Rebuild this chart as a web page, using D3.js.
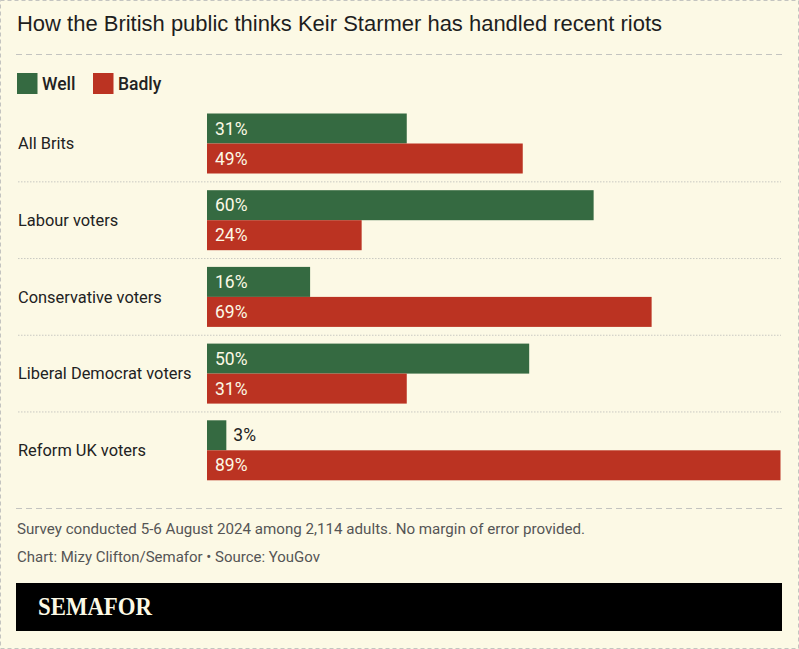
<!DOCTYPE html>
<html>
<head>
<meta charset="utf-8">
<script src="https://cdn.jsdelivr.net/npm/d3@7"></script>
<style>
  body { margin: 0; background: #fcf9e5; }
  svg { display: block; }
</style>
</head>
<body>
<svg id="canvas" width="799" height="649"></svg>
<script>
// data
var groups = ['All Brits', 'Labour voters', 'Conservative voters', 'Liberal Democrat voters', 'Reform UK voters'];
var series = ['Well', 'Badly'];
var well = [31, 60, 16, 50, 3];
var badly = [49, 24, 69, 31, 89];
var colors = ['#356a41', '#bb3322'];

var title = 'How the British public thinks Keir Starmer has handled recent riots';
var note = 'Survey conducted 5-6 August 2024 among 2,114 adults. No margin of error provided.';
var credit = 'Chart: Mizy Clifton/Semafor \u2022 Source: YouGov';

var svg = d3.select('#canvas');
var W = 799, H = 649;
var sans = 'Roboto, "Noto Sans", sans-serif';

// background + outer dashed frame
svg.append('rect').attr('x', 0.5).attr('y', 0.5).attr('width', W - 1).attr('height', H - 1)
  .style('fill', '#fcf9e5').style('stroke', '#c4c4c0').style('stroke-dasharray', '4,3');

// title
svg.append('text').attr('x', 17).attr('y', 31)
  .attr('textLength', 645).attr('lengthAdjust', 'spacingAndGlyphs')
  .style('font-family', '"Liberation Sans", Arial, sans-serif').style('font-size', '22px').style('fill', '#1e1e1e')
  .text(title);
svg.append('line').attr('x1', 16).attr('x2', 782).attr('y1', 54.5).attr('y2', 54.5)
  .style('stroke', '#c4c4c0').style('stroke-dasharray', '6,4');

// legend
var legend = svg.append('g').selectAll('g').data(series).join('g')
  .attr('transform', function(d, i){ return 'translate(' + [17, 93][i] + ',73)'; });
legend.append('rect').attr('width', 20.5).attr('height', 21).style('fill', function(d, i){ return colors[i]; });
legend.append('text').attr('x', 25).attr('y', 10.5).attr('dy', '0.35em')
  .style('font-family', sans).style('font-size', '17.5px').style('font-weight', 500).style('fill', '#222')
  .text(function(d){ return d; });

// scales
var x = d3.scaleLinear().domain([0, 89]).range([207, 780.5]);
var y = d3.scaleBand().domain(groups).range([113.5, 480.3]).paddingInner(16.7 / 76.7);
var ySub = d3.scaleBand().domain(series).range([0, y.bandwidth()]);

var rows = groups.map(function(g, i){ return { name: g, vals: [well[i], badly[i]] }; });

// separators between groups
svg.append('g').selectAll('line').data(groups.slice(1)).join('line')
  .attr('x1', 18).attr('x2', 781)
  .attr('y1', function(d){ return y(d) - y.step() * y.paddingInner() / 2; })
  .attr('y2', function(d){ return y(d) - y.step() * y.paddingInner() / 2; })
  .style('stroke', '#c9c9c2').style('stroke-dasharray', '1.5,1.5');

var row = svg.append('g').selectAll('g').data(rows).join('g')
  .attr('transform', function(d){ return 'translate(0,' + y(d.name) + ')'; });

row.append('text').attr('x', 18).attr('y', y.bandwidth() / 2).attr('dy', '0.35em')
  .style('font-family', sans).style('font-size', '16.4px').style('fill', '#222')
  .text(function(d){ return d.name; });

var bar = row.selectAll('g').data(function(d){
    return d.vals.map(function(v, i){ return { s: series[i], v: v, i: i }; });
  }).join('g')
  .attr('transform', function(d){ return 'translate(0,' + ySub(d.s) + ')'; });

bar.append('rect').attr('x', x(0)).attr('width', function(d){ return x(d.v) - x(0); })
  .attr('height', ySub.bandwidth())
  .style('fill', function(d){ return colors[d.i]; });

bar.append('text')
  .attr('x', function(d){ return d.v < 8 ? x(d.v) + 7 : x(0) + 8; })
  .attr('y', ySub.bandwidth() / 2).attr('dy', '0.35em')
  .style('font-family', sans).style('font-size', '17.5px')
  .style('fill', function(d){ return d.v < 8 ? '#222' : '#fcf9e5'; })
  .text(function(d){ return d.v + '%'; });

// footer
svg.append('line').attr('x1', 16).attr('x2', 782).attr('y1', 508.5).attr('y2', 508.5)
  .style('stroke', '#c4c4c0').style('stroke-dasharray', '6,4');
svg.append('text').attr('x', 17).attr('y', 529).attr('dy', '0.35em')
  .attr('textLength', 568).attr('lengthAdjust', 'spacingAndGlyphs')
  .style('font-family', sans).style('font-size', '15.5px').style('fill', '#555')
  .text(note);
svg.append('text').attr('x', 17).attr('y', 557).attr('dy', '0.35em')
  .attr('textLength', 303).attr('lengthAdjust', 'spacingAndGlyphs')
  .style('font-family', sans).style('font-size', '15.5px').style('fill', '#555')
  .text(credit);

svg.append('rect').attr('x', 16).attr('y', 583).attr('width', 766).attr('height', 48).style('fill', '#000');
svg.append('text').attr('x', 38).attr('y', 615)
  .attr('textLength', 114).attr('lengthAdjust', 'spacingAndGlyphs')
  .style('font-family', '"Liberation Serif", "DejaVu Serif", serif').style('font-size', '26px').style('font-weight', 'bold')
  .style('fill', '#fcf9e5')
  .text('SEMAFOR');
</script>
</body>
</html>
